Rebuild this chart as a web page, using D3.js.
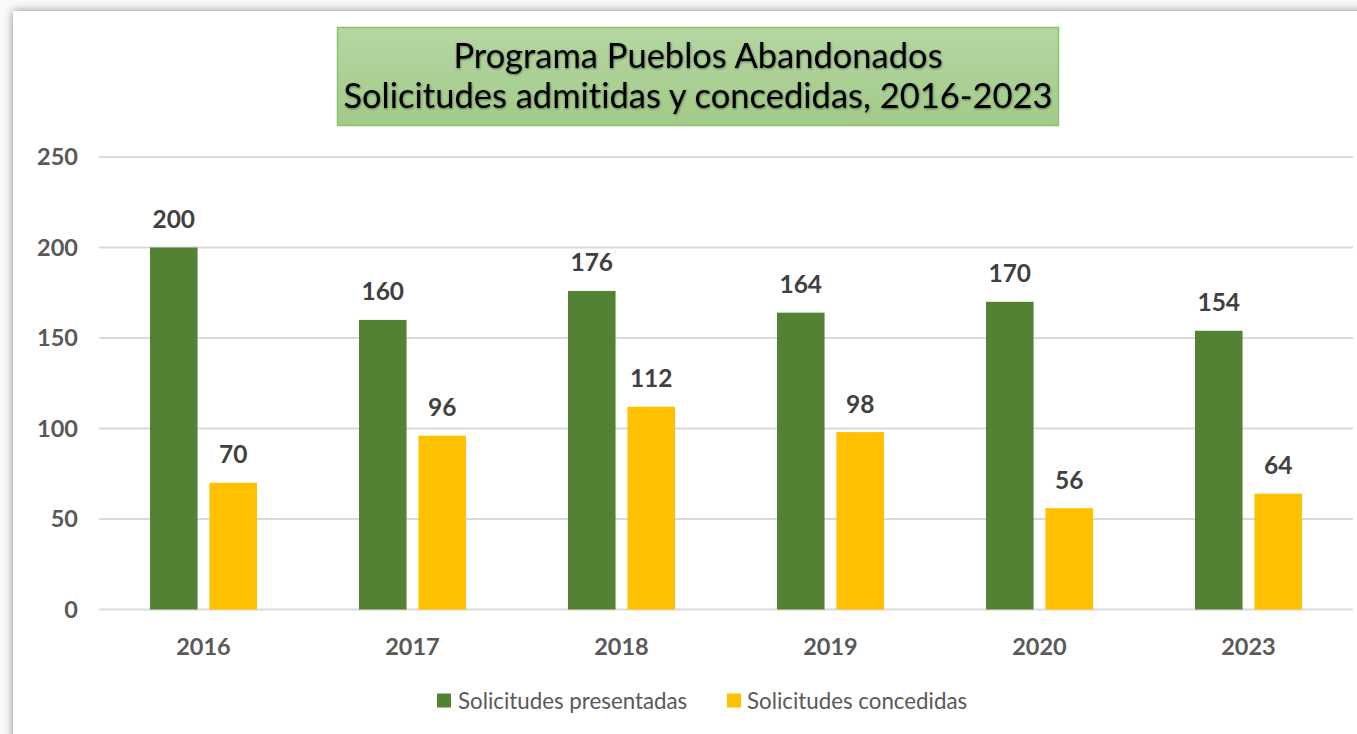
<!DOCTYPE html>
<html><head><meta charset="utf-8">
<script src="https://cdn.jsdelivr.net/npm/d3@7"></script>
<style>html,body{margin:0;padding:0;background:#fff;overflow:hidden} text{font-variant-ligatures:none;font-feature-settings:"liga" 0}</style>
</head><body>
<svg id="chart" width="1357" height="734"></svg>
<script>
const years = ["2016","2017","2018","2019","2020","2023"];
const seriesNames = ["Solicitudes presentadas","Solicitudes concedidas"];
const presentadas = [200,160,176,164,170,154];
const concedidas = [70,96,112,98,56,64];
const yTicks = [0,50,100,150,200,250];
const titleLines = ["Programa Pueblos Abandonados","Solicitudes admitidas y concedidas, 2016-2023"];
const colors = ["#548235","#ffc000"];
const FONT = "Lato, 'Open Sans', sans-serif";

const svg = d3.select("#chart");
const defs = svg.append("defs");
const f = defs.append("filter").attr("id","sh").attr("x","-5%").attr("y","-5%").attr("width","110%").attr("height","110%");
f.append("feDropShadow").attr("dx",0).attr("dy",0).attr("stdDeviation",5).attr("flood-color","#000").attr("flood-opacity",0.45);
const tf = defs.append("filter").attr("id","tsh").attr("x","-5%").attr("y","-20%").attr("width","110%").attr("height","140%");
tf.append("feDropShadow").attr("dx",0.5).attr("dy",1).attr("stdDeviation",1.2).attr("flood-color","#000").attr("flood-opacity",0.45);
const g = defs.append("linearGradient").attr("id","tg").attr("x1",0).attr("y1",0).attr("x2",0).attr("y2",1);
g.append("stop").attr("offset","0%").attr("stop-color","#b5d6a2");
g.append("stop").attr("offset","100%").attr("stop-color","#a2cb88");

svg.append("rect").attr("x",0).attr("y",0).attr("width",1357).attr("height",734).attr("fill","#fafafa");
svg.append("rect").attr("x",13).attr("y",11).attr("width",1400).attr("height",800).attr("fill","#fff").attr("filter","url(#sh)");

const x0 = d3.scaleBand().domain(years).range([99,1353]);
const groupW = 107;
const x1 = d3.scaleBand().domain(seriesNames).range([0,groupW]).paddingInner(0.2);
const y = d3.scaleLinear().domain([0,250]).range([609.5,157]);

// grid
svg.append("g").selectAll("line").data(yTicks).join("line")
  .attr("x1",99).attr("x2",1353).attr("y1",d=>y(d)).attr("y2",d=>y(d))
  .attr("stroke","#d9d9d9").attr("stroke-width",2);

// y labels
svg.append("g").selectAll("text").data(yTicks).join("text")
  .attr("x",78).attr("y",d=>y(d)).attr("dy","0.36em").attr("text-anchor","end")
  .attr("font-family",FONT).attr("font-weight","bold").attr("font-size",23.5)
  .attr("fill","#595959").text(d=>d);

const data = years.map((yr,i)=>({year:yr, vals:[presentadas[i],concedidas[i]]}));
const groups = svg.append("g").selectAll("g").data(data).join("g")
  .attr("transform",d=>`translate(${x0(d.year)+(x0.bandwidth()-groupW)/2},0)`);
groups.selectAll("rect").data(d=>d.vals.map((v,j)=>({v, s:seriesNames[j], j}))).join("rect")
  .attr("x",d=>x1(d.s)).attr("width",x1.bandwidth())
  .attr("y",d=>y(d.v)).attr("height",d=>y(0)-y(d.v)).attr("fill",d=>colors[d.j]);
groups.selectAll("text").data(d=>d.vals.map((v,j)=>({v, s:seriesNames[j], j}))).join("text")
  .attr("x",d=>x1(d.s)+x1.bandwidth()/2).attr("y",d=>y(d.v)-19.5).attr("text-anchor","middle")
  .attr("font-family",FONT).attr("font-weight","bold").attr("font-size",24.5)
  .attr("fill","#404040").text(d=>d.v);

// x labels
svg.append("g").selectAll("text").data(years).join("text")
  .attr("x",d=>x0(d)+x0.bandwidth()/2).attr("y",655).attr("text-anchor","middle")
  .attr("font-family",FONT).attr("font-weight","bold").attr("font-size",23.5)
  .attr("fill","#595959").text(d=>d);

// title
svg.append("rect").attr("x",337.5).attr("y",27.5).attr("width",721).attr("height",98)
  .attr("fill","url(#tg)").attr("stroke","#8cc16f").attr("stroke-width",1.5);
svg.append("g").attr("filter","url(#tsh)").selectAll("text").data(titleLines).join("text")
  .attr("x",698).attr("y",(d,i)=>68+i*40).attr("text-anchor","middle")
  .attr("font-family",FONT).attr("font-size",34.5)
  .attr("fill","#000").text(d=>d);

// legend
const leg = [{x:437,tx:458},{x:727,tx:747}];
const lg = svg.append("g");
lg.selectAll("rect").data(seriesNames).join("rect")
  .attr("x",(d,i)=>leg[i].x).attr("y",693.5).attr("width",14).attr("height",14).attr("fill",(d,i)=>colors[i]);
lg.selectAll("text").data(seriesNames).join("text")
  .attr("x",(d,i)=>leg[i].tx).attr("y",701).attr("dy","0.35em")
  .attr("font-family",FONT).attr("font-size",22.3)
  .attr("fill","#595959").text(d=>d);
</script>
</body></html>
